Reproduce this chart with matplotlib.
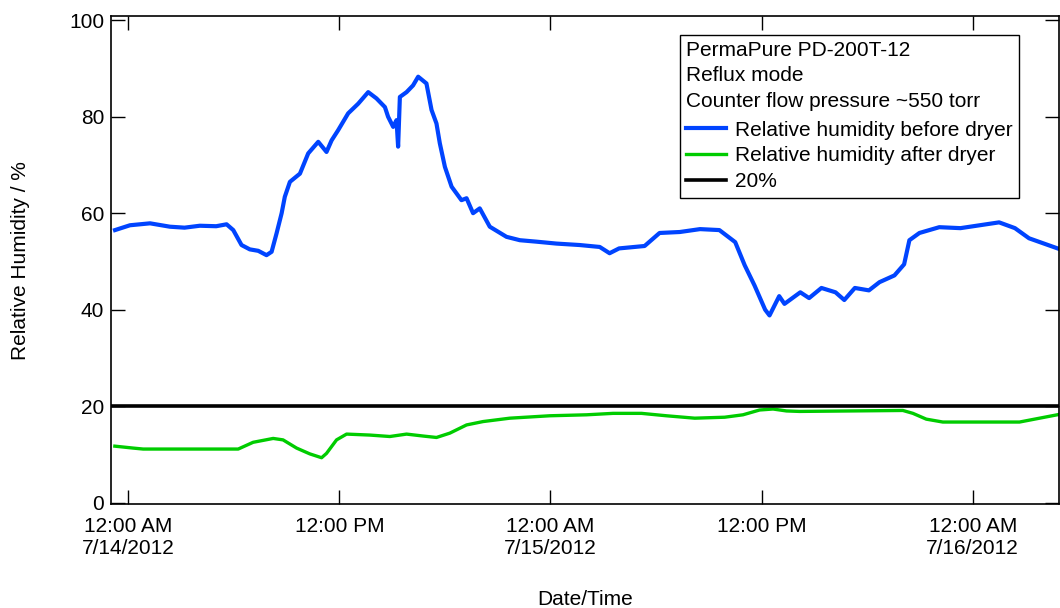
import matplotlib
matplotlib.use("Agg")
import matplotlib.pyplot as plt
import matplotlib.dates as mdates
import numpy as np
import pandas as pd

plt.rcParams['font.family'] = ['Liberation Sans', 'DejaVu Sans']
plt.rcParams['font.size'] = 15

t0 = pd.Timestamp('2012-07-14 00:00')

# hours after 7/14/2012 12:00 AM, relative humidity in %
before_h = [-0.75, 0.1, 1.24, 2.37, 3.2, 4.07, 5.0, 5.59, 5.97, 6.44, 6.91, 7.39, 7.86, 8.15,
            8.43, 8.72, 8.9, 9.19, 9.76, 10.23, 10.8, 11.27, 11.56, 11.93, 12.5, 13.07, 13.64,
            14.11, 14.59, 14.77, 15.06, 15.25, 15.34, 15.44, 15.82, 16.19, 16.48, 16.95, 17.24,
            17.52, 17.71, 18.0, 18.38, 18.94, 19.23, 19.6, 19.98, 20.55, 21.5, 22.26, 23.2,
            24.34, 25.66, 26.8, 27.36, 27.9, 29.35, 30.2, 31.35, 32.5, 33.6, 34.5, 35.04,
            35.6, 36.2, 36.45, 37.0, 37.3, 37.6, 38.2, 38.7, 39.4, 40.2, 40.7, 41.3, 42.1,
            42.7, 43.55, 44.1, 44.4, 44.97, 46.1, 47.3, 48.4, 49.5, 50.4, 51.2, 52.9]
before_rh = [56.5, 57.5, 57.9, 57.2, 57.0, 57.4, 57.3, 57.7, 56.5, 53.4, 52.5, 52.2, 51.3, 52.0,
             55.8, 60.0, 63.4, 66.5, 68.2, 72.4, 74.8, 72.7, 75.1, 77.2, 80.7, 82.7, 85.1,
             83.8, 82.0, 80.0, 77.9, 79.3, 73.8, 84.1, 85.1, 86.5, 88.3, 86.9, 81.4,
             78.6, 74.5, 69.6, 65.5, 62.7, 63.1, 60.0, 61.0, 57.2, 55.1, 54.4, 54.1,
             53.7, 53.4, 53.0, 51.7, 52.7, 53.2, 55.9, 56.1, 56.7, 56.5, 54.0, 49.2,
             45.0, 40.0, 38.8, 42.8, 41.2, 42.0, 43.6, 42.4, 44.5, 43.6, 42.0, 44.5, 44.0,
             45.7, 47.1, 49.4, 54.4, 55.9, 57.1, 56.9, 57.5, 58.1, 56.9, 54.8, 52.6]

after_h = [-0.76, 0.28, 0.85, 6.25, 7.1, 8.24, 8.8, 9.57, 10.32, 10.99, 11.27, 11.84, 12.41,
           13.73, 14.87, 15.82, 16.76, 17.52, 18.28, 19.23, 20.17, 21.69, 23.96, 26.05,
           27.56, 29.17, 30.59, 32.2, 33.9, 34.94, 35.89, 36.65, 37.41, 38.16, 44.03, 44.6,
           45.36, 46.3, 50.66, 51.8, 52.94]
after_rh = [11.7, 11.3, 11.1, 11.1, 12.5, 13.3, 13.0, 11.3, 10.1, 9.3, 10.2, 13.0, 14.2,
            14.0, 13.7, 14.2, 13.8, 13.5, 14.4, 16.1, 16.8, 17.5, 18.0, 18.2,
            18.5, 18.5, 18.0, 17.5, 17.7, 18.2, 19.2, 19.4, 19.0, 18.9, 19.1, 18.5,
            17.3, 16.7, 16.7, 17.5, 18.3]

limit_rh = 20

before_t = t0 + pd.to_timedelta(before_h, unit='h')
after_t = t0 + pd.to_timedelta(after_h, unit='h')
x_start = t0 + pd.Timedelta(hours=-0.98)
x_end = t0 + pd.Timedelta(hours=52.9)

fig = plt.figure(figsize=(10.6, 6.08), dpi=100)
ax = fig.add_axes([0.1047, 0.171, 0.8943, 0.802])

ax.plot(before_t, before_rh, color='#0044ff', lw=3.0, label='Relative humidity before dryer')
ax.plot(after_t, after_rh, color='#00cc00', lw=2.4, label='Relative humidity after dryer')
ax.plot([x_start, x_end], [limit_rh, limit_rh], color='black', lw=2.6, label='20%')

ax.set_xlim(x_start, x_end)
ax.set_ylim(-0.3, 100.8)
ax.set_yticks([0, 20, 40, 60, 80, 100])

ticks = [t0 + pd.Timedelta(hours=12 * i) for i in range(5)]
ax.set_xticks(ticks)


def fmt(x, pos):
    d = mdates.num2date(x)
    hh = d.strftime('%I:%M %p')
    if d.hour == 0:
        return hh + '\n' + '%d/%d/%d' % (d.month, d.day, d.year)
    return hh


ax.xaxis.set_major_formatter(plt.FuncFormatter(fmt))
ax.tick_params(direction='in', length=10, width=1, top=True, right=True, colors='black')
ax.tick_params(axis='x', pad=9)
ax.tick_params(axis='y', pad=5)
for s in ax.spines.values():
    s.set_linewidth(1.2)

ax.set_xlabel('Date/Time')
ax.xaxis.set_label_coords(0.5, -0.176)
ax.set_ylabel('Relative Humidity / %')
ax.yaxis.set_label_coords(-0.085, 0.5)

leg = ax.legend(loc='upper right', bbox_to_anchor=(0.958, 0.962), borderaxespad=0,
                title='PermaPure PD-200T-12\nReflux mode\nCounter flow pressure ~550 torr',
                title_fontsize=15, fontsize=15, fancybox=False, framealpha=1,
                edgecolor='black', handlelength=1.9, handletextpad=0.45,
                labelspacing=0.33, borderpad=0.3, alignment='left')
leg.get_title().set_linespacing(1.42)
leg._legend_box.sep = 7
leg.get_frame().set_linewidth(1.0)

fig.savefig('out.png', dpi=100)
